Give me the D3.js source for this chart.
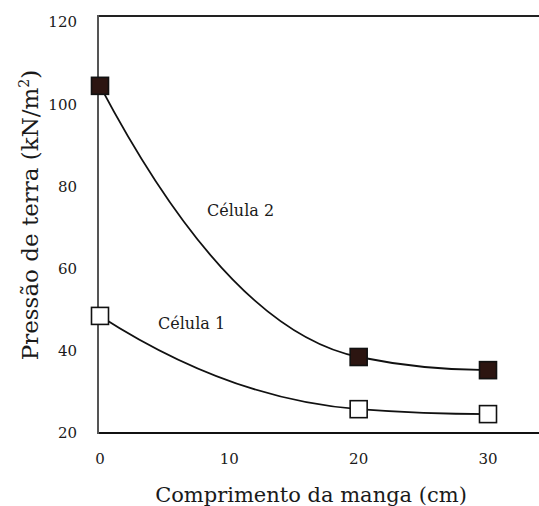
<!DOCTYPE html>
<html>
<head>
<meta charset="utf-8">
<script src="https://cdn.jsdelivr.net/npm/d3@7"></script>
<style>
  html, body { margin: 0; padding: 0; background: #fff; }
  svg { display: block; }
  text { fill: #1a1a1a; }
</style>
</head>
<body>
<svg id="chart" width="539" height="506"></svg>
<script>
// Sleeve length (cm) and measured earth pressure (kN/m²) for each cell
const sleeveLength = [0, 20, 30];
const cell1 = [48.5, 25.8, 24.6];
const cell2 = [104.5, 38.5, 35.3];
const xTicks = [0, 10, 20, 30];
const yTicks = [20, 40, 60, 80, 100, 120];
const seriesNames = ["Célula 1", "Célula 2"];

const FONT = "DejaVu Serif";

const svg = d3.select("#chart").style("font-family", FONT);

const x = d3.scaleLinear().domain([0, 30]).range([100, 488]);
const y = d3.scaleLinear().domain([20, 121.5]).range([433, 16]);

// Smooth curve: monotone interior tangents, end tangents extrapolated
function SmoothDecay(context) { this._context = context; }
SmoothDecay.prototype = {
  areaStart() { this._line = 0; },
  areaEnd() { this._line = NaN; },
  lineStart() { this._xs = []; this._ys = []; },
  point(px, py) { this._xs.push(+px); this._ys.push(+py); },
  lineEnd() {
    const xs = this._xs, ys = this._ys, n = xs.length, c = this._context;
    if (!n) return;
    c.moveTo(xs[0], ys[0]);
    if (n === 1) return;
    const s = [], h = [];
    for (let i = 0; i < n - 1; i++) {
      h.push(xs[i + 1] - xs[i]);
      s.push((ys[i + 1] - ys[i]) / h[i]);
    }
    const t = new Array(n).fill(0);
    for (let i = 1; i < n - 1; i++) {
      const s0 = s[i - 1], s1 = s[i];
      if (s0 * s1 <= 0) { t[i] = 0; continue; }
      const p = (s0 * h[i] + s1 * h[i - 1]) / (h[i - 1] + h[i]);
      t[i] = (Math.sign(s0) + Math.sign(s1)) * Math.min(Math.abs(s0), Math.abs(s1), 0.5 * Math.abs(p));
    }
    if (n === 2) { t[0] = s[0]; t[1] = s[0]; }
    else {
      t[0] = 2 * s[0] - t[1];
      t[n - 1] = 2 * s[n - 2] - t[n - 2];
    }
    for (let i = 0; i < n - 1; i++) {
      const d = h[i] / 3;
      c.bezierCurveTo(xs[i] + d, ys[i] + d * t[i], xs[i + 1] - d, ys[i + 1] - d * t[i + 1], xs[i + 1], ys[i + 1]);
    }
  }
};
const curveSmoothDecay = ctx => new SmoothDecay(ctx);

// Frame: left axis, bottom axis and top rule
svg.append("line").attr("x1", 98).attr("x2", 539).attr("y1", y(121.5)).attr("y2", y(121.5))
  .attr("stroke", "#222").attr("stroke-width", 2.2);
svg.append("line").attr("x1", 97).attr("x2", 539).attr("y1", y(20)).attr("y2", y(20))
  .attr("stroke", "#111").attr("stroke-width", 2);
svg.append("line").attr("x1", 98).attr("x2", 98).attr("y1", y(121.5) - 1).attr("y2", y(20) + 1)
  .attr("stroke", "#555").attr("stroke-width", 2);

// Tick labels
svg.append("g").selectAll("text").data(yTicks).join("text")
  .attr("x", 77).attr("y", d => y(d)).attr("dy", "0.35em")
  .attr("text-anchor", "end").attr("font-size", 15).text(d => d);
svg.append("g").selectAll("text").data(xTicks).join("text")
  .attr("x", d => x(d)).attr("y", 464)
  .attr("text-anchor", "middle").attr("font-size", 15).text(d => d);

// Axis titles
svg.append("text").attr("x", 311).attr("y", 502).attr("text-anchor", "middle")
  .attr("font-size", 21).text("Comprimento da manga (cm)");
const yt = svg.append("text").attr("transform", "translate(38,215) rotate(-90)")
  .attr("text-anchor", "middle").attr("font-size", 23);
yt.append("tspan").text("Pressão de terra (kN/m");
yt.append("tspan").attr("dy", -9).attr("font-size", 14).text("2");
yt.append("tspan").attr("dy", 9).text(")");

// Curves
const line = d3.line().x((d, i) => x(sleeveLength[i])).y(d => y(d)).curve(curveSmoothDecay);
[cell1, cell2].forEach(vals => {
  svg.append("path").attr("d", line(vals)).attr("fill", "none")
    .attr("stroke", "#111").attr("stroke-width", 1.8);
});

// Markers
const size = 17;
function markers(vals, fill) {
  svg.append("g").selectAll("rect").data(vals).join("rect")
    .attr("x", (d, i) => x(sleeveLength[i]) - size / 2)
    .attr("y", d => y(d) - size / 2)
    .attr("width", size).attr("height", size)
    .attr("fill", fill).attr("stroke", "#111").attr("stroke-width", 1.6);
}
markers(cell1, "#ffffff");
markers(cell2, "#2c1511");

// Series labels
svg.append("text").attr("x", 158).attr("y", 329).attr("font-size", 16).text(seriesNames[0]);
svg.append("text").attr("x", 207).attr("y", 216).attr("font-size", 16).text(seriesNames[1]);
</script>
</body>
</html>
